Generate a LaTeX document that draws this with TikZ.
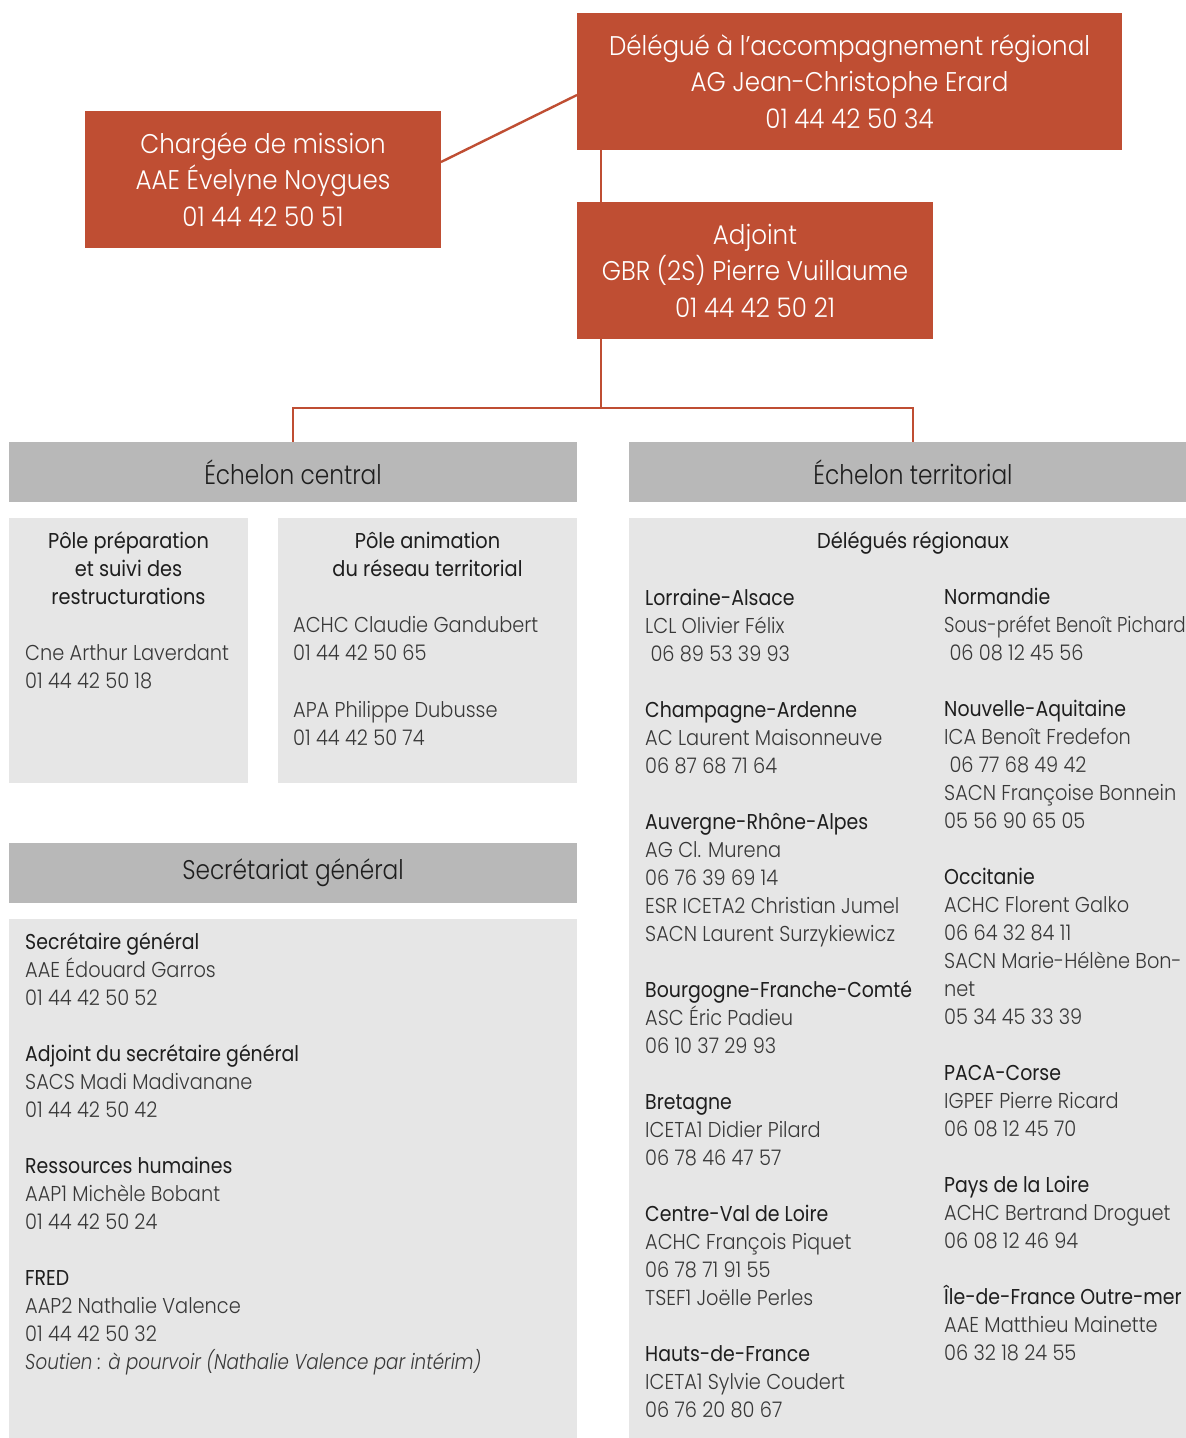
\documentclass[tikz,border=0pt]{standalone}
\usepackage{fontspec}
\setmainfont{Poppins}[FakeStretch=0.9]
\newfontfamily\boxfont{Poppins Light}[FakeStretch=0.91]
\newfontfamily\hdrfont{Poppins Light}[FakeStretch=0.86]
\newfontfamily\lightfont{Poppins Light}[FakeStretch=0.9]
\newfontfamily\tightfont{Poppins Light}[FakeStretch=0.85]
\newfontfamily\regfont{Poppins}[FakeStretch=0.88]
\newfontfamily\titlefont{Poppins}[FakeStretch=0.9]
\definecolor{brick}{HTML}{BF4E33}
\definecolor{hdrgray}{HTML}{B8B8B8}
\definecolor{boxgray}{HTML}{E6E6E6}
\definecolor{ink}{HTML}{1E1E1E}
\definecolor{soft}{HTML}{383838}
\newcommand\rg[1]{{\regfont\color{ink}#1}}
\tikzset{
  redbox/.style={fill=brick, text=white, inner sep=0pt, align=center,
    minimum height=137pt, font=\fontsize{27}{36.5}\selectfont\boxfont},
  hdrbox/.style={fill=hdrgray, text=ink, inner sep=0pt, minimum width=568pt,
    minimum height=60pt, font=\fontsize{27}{36}\selectfont\hdrfont},
  panel/.style={fill=boxgray, inner sep=0pt},
  link/.style={brick, line width=2.4pt},
  entry/.style={anchor=base west, align=left, inner sep=0pt, text=soft,
    font=\fontsize{21.5}{28}\selectfont\lightfont},
  ctitle/.style={anchor=base, align=center, inner sep=0pt, text=ink,
    font=\fontsize{21.5}{28}\selectfont\titlefont},
}
\begin{document}
\begin{tikzpicture}[x=1pt,y=-1pt]
\useasboundingbox (0,0) rectangle (1186,1438);
\fill[white] (0,0) rectangle (1186,1438);

% red boxes
\node[redbox, minimum width=545pt] (del) at (849.5,81.5)
  {Délégué à l’accompagnement régional\\AG Jean-Christophe Erard\\01 44 42 50 34};
\node[redbox, minimum width=356pt] (chg) at (263,179.5)
  {Chargée de mission\\AAE Évelyne Noygues\\01 44 42 50 51};
\node[redbox, minimum width=356pt] (adj) at (755,270.5)
  {Adjoint\\GBR (2S) Pierre Vuillaume\\01 44 42 50 21};

% headers
\node[hdrbox] (hc) at (293,472) {Échelon central};
\node[hdrbox] (ht) at (913,472) {Échelon territorial};
\node[hdrbox] (hs) at (293,873) {Secrétariat général};

% connectors
\coordinate (chgout) at (441,162);
\coordinate (delin) at (577,95);
\draw[link] (chgout) -- (delin);
\draw[link] (del.south -| 601,0) -- (adj.north -| 601,0);
\coordinate (fork) at (601,408);
\draw[link] (adj.south -| fork) -- (fork);
\draw[link] (hc.north) -- (hc.north |- fork) -- (ht.north |- fork) -- (ht.north);

% panels
\node[panel, minimum width=239pt, minimum height=265pt] (pp) at (128.5,650.5) {};
\node[panel, minimum width=299pt, minimum height=265pt] (pa) at (427.5,650.5) {};
\node[panel, minimum width=568pt, minimum height=531pt] (sg) at (293,1184.5) {};
\node[panel, minimum width=568pt, minimum height=932pt] (dr) at (913,984) {};

% (multi-line nodes: base anchor = baseline of the last line)
% Pôle préparation
\node[ctitle] (pptitle) at (128.5,604) {Pôle préparation\\et suivi des\\restructurations};
\node[entry] (ppe) at (25,688) {Cne Arthur Laverdant\\01 44 42 50 18};

% Pôle animation
\node[ctitle] (patitle) at (427.5,576) {Pôle animation\\du réseau territorial};
\node[entry] (pae1) at (293,660) {ACHC Claudie Gandubert\\01 44 42 50 65};
\node[entry] (pae2) at (293,745) {APA Philippe Dubusse\\01 44 42 50 74};

% Délégués régionaux
\node[ctitle] (drtitle) at (913,548) {Délégués régionaux};
\node[entry] (drl) at (645,1417) {%
\rg{Lorraine-Alsace}\\LCL Olivier Félix\\\ 06 89 53 39 93\\[28pt]
\rg{Champagne-Ardenne}\\AC Laurent Maisonneuve\\06 87 68 71 64\\[28pt]
\rg{Auvergne-Rhône-Alpes}\\AG Cl. Murena\\06 76 39 69 14\\ESR ICETA2 Christian Jumel\\SACN Laurent Surzykiewicz\\[28pt]
\rg{Bourgogne-Franche-Comté}\\ASC Éric Padieu\\06 10 37 29 93\\[28pt]
\rg{Bretagne}\\ICETA1 Didier Pilard\\06 78 46 47 57\\[28pt]
\rg{Centre-Val de Loire}\\ACHC François Piquet\\06 78 71 91 55\\TSEF1 Joëlle Perles\\[28pt]
\rg{Hauts-de-France}\\ICETA1 Sylvie Coudert\\06 76 20 80 67};
\node[entry] (drr) at (944,1360) {%
\rg{Normandie}\\{\tightfont Sous-préfet Benoît Pichard}\\\ 06 08 12 45 56\\[28pt]
\rg{Nouvelle-Aquitaine}\\ICA Benoît Fredefon\\\ 06 77 68 49 42\\SACN Françoise Bonnein\\05 56 90 65 05\\[28pt]
\rg{Occitanie}\\ACHC Florent Galko\\06 64 32 84 11\\SACN Marie-Hélène Bon-\\net\\05 34 45 33 39\\[28pt]
\rg{PACA-Corse}\\IGPEF Pierre Ricard\\06 08 12 45 70\\[28pt]
\rg{Pays de la Loire}\\ACHC Bertrand Droguet\\06 08 12 46 94\\[28pt]
\rg{Île-de-France Outre-mer}\\AAE Matthieu Mainette\\06 32 18 24 55};

% Secrétariat général
\node[entry] (sge) at (25,1369) {%
\rg{Secrétaire général}\\AAE Édouard Garros\\01 44 42 50 52\\[28pt]
\rg{Adjoint du secrétaire général}\\SACS Madi Madivanane\\01 44 42 50 42\\[28pt]
\rg{Ressources humaines}\\AAP1 Michèle Bobant\\01 44 42 50 24\\[28pt]
\rg{FRED}\\AAP2 Nathalie Valence\\01 44 42 50 32\\{\tightfont\itshape Soutien : à pourvoir (Nathalie Valence par intérim)}};
\end{tikzpicture}
\end{document}
